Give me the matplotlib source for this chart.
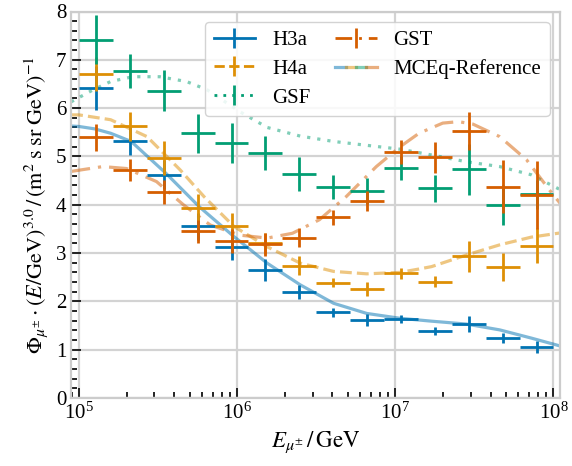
import numpy as np
import matplotlib
matplotlib.use('Agg')
import matplotlib.pyplot as plt
from matplotlib.lines import Line2D
from matplotlib.legend_handler import HandlerTuple

plt.rcParams['font.family'] = 'serif'
plt.rcParams['font.serif'] = ['Liberation Serif', 'DejaVu Serif']
plt.rcParams['mathtext.fontset'] = 'stix'
plt.rcParams['font.size'] = 15

# Muon flux (E^3 weighted) in 14 log bins from 1e5 to 1e8 GeV
edges = np.logspace(5, 8, 15)
centers = np.sqrt(edges[:-1] * edges[1:])

h3a = [6.42, 5.32, 4.62, 3.55, 3.13, 2.65, 2.19, 1.77, 1.61, 1.63, 1.39, 1.53, 1.24, 1.05]
h3a_err = [0.46, 0.30, 0.30, 0.28, 0.27, 0.22, 0.15, 0.10, 0.12, 0.08, 0.08, 0.16, 0.10, 0.12]
h4a = [6.71, 5.62, 4.97, 3.94, 3.57, 3.20, 2.74, 2.39, 2.26, 2.58, 2.41, 2.93, 2.71, 3.15]
h4a_err = [0.35, 0.31, 0.35, 0.28, 0.26, 0.22, 0.20, 0.10, 0.15, 0.12, 0.12, 0.33, 0.29, 0.36]
gsf = [7.42, 6.77, 6.36, 5.48, 5.28, 5.07, 4.64, 4.37, 4.29, 4.76, 4.34, 4.73, 4.00, 4.22]
gsf_err = [0.50, 0.36, 0.42, 0.40, 0.41, 0.35, 0.35, 0.25, 0.27, 0.24, 0.28, 0.52, 0.41, 0.30]
gst = [5.40, 4.72, 4.27, 3.45, 3.25, 3.18, 3.32, 3.74, 4.08, 5.10, 4.98, 5.53, 4.37, 4.20]
gst_err = [0.28, 0.22, 0.25, 0.24, 0.24, 0.24, 0.20, 0.15, 0.20, 0.25, 0.32, 0.40, 0.55, 0.71]

# MCEq reference curves (log10 E, value)
h3a_ref_loge = [4.95, 5.0, 5.1, 5.2, 5.33, 5.55, 5.76, 5.98, 6.19, 6.40, 6.61, 6.82, 7.03, 7.23, 7.45, 7.66, 7.86, 8.05]
h3a_ref = [5.63, 5.62, 5.57, 5.48, 5.31, 4.65, 3.96, 3.34, 2.79, 2.34, 1.96, 1.75, 1.65, 1.59, 1.53, 1.41, 1.24, 1.07]
h4a_ref_loge = [4.95, 5.0, 5.2, 5.43, 5.64, 5.79, 5.98, 6.19, 6.40, 6.61, 6.82, 7.03, 7.15, 7.23, 7.45, 7.66, 7.86, 8.05]
h4a_ref = [5.86, 5.86, 5.76, 5.41, 4.72, 4.17, 3.55, 3.13, 2.79, 2.62, 2.57, 2.60, 2.67, 2.72, 2.96, 3.17, 3.33, 3.42]
gsf_ref_loge = [4.95, 5.09, 5.20, 5.34, 5.51, 5.68, 5.81, 6.02, 6.19, 6.40, 6.61, 6.82, 7.03, 7.23, 7.45, 7.66, 7.86, 8.05]
gsf_ref = [6.13, 6.38, 6.55, 6.65, 6.65, 6.55, 6.38, 5.92, 5.60, 5.42, 5.31, 5.23, 5.15, 5.03, 4.89, 4.79, 4.62, 4.30]
gst_ref_loge = [4.95, 5.15, 5.30, 5.49, 5.66, 5.83, 6.02, 6.19, 6.35, 6.52, 6.69, 6.88, 7.03, 7.15, 7.30, 7.40, 7.49, 7.66, 7.83, 7.99, 8.05]
gst_ref = [4.69, 4.79, 4.75, 4.48, 4.00, 3.58, 3.37, 3.31, 3.41, 3.69, 4.17, 4.79, 5.20, 5.48, 5.69, 5.72, 5.67, 5.41, 4.93, 4.24, 4.00]

colors = ['#0173B2', '#DE8F05', '#029E73', '#D55E00']
labels = ['H3a', 'H4a', 'GSF', 'GST']
styles = ['-', '--', (0, (1, 2.2)), (0, (6, 2.5, 1, 2.5))]

fig = plt.figure(figsize=(5.72, 4.66), dpi=100)
ax = fig.add_axes([71 / 572, 68 / 466, 489 / 572, 386.5 / 466])

refs = [(h3a_ref_loge, h3a_ref), (h4a_ref_loge, h4a_ref),
        (gsf_ref_loge, gsf_ref), (gst_ref_loge, gst_ref)]
for (loge, vals), c, ls in zip(refs, colors, styles):
    ax.plot(10 ** np.array(loge), vals, color=c, ls=ls, lw=2.3, alpha=0.5,
            zorder=2)

xerr = [centers - edges[:-1], edges[1:] - centers]
series = [(h3a, h3a_err), (h4a, h4a_err), (gsf, gsf_err), (gst, gst_err)]
for i, ((y, yerr), c) in enumerate(zip(series, colors)):
    ax.errorbar(centers, y, xerr=xerr, yerr=yerr, fmt='none', ecolor=c,
                elinewidth=2.0, capsize=0, zorder=3 + i)

ax.set_xscale('log')
ax.set_xlim(0.89e5, 1.1e8)
ax.set_ylim(0, 8)
ax.set_yticks(range(0, 9))
ax.yaxis.set_minor_locator(matplotlib.ticker.MultipleLocator(0.2))
ax.grid(True, which='major', color='#d3d3d3', lw=1.6)
ax.set_axisbelow(True)
for s in ax.spines.values():
    s.set_color('#cccccc')
    s.set_linewidth(1.6)
ax.tick_params(which='both', direction='in', color='#222222', width=1.4)
ax.tick_params(which='major', length=7, labelsize=15)
ax.tick_params(which='minor', length=4)

ax.set_xlabel(r'$E_{\mu^{\pm}}\,/\,\mathrm{GeV}$', fontsize=16.5)
ax.set_ylabel(r'$\Phi_{\mu^{\pm}}\cdot(E/\mathrm{GeV})^{3.0}\,/\,'
              r'(\mathrm{m}^2\;\mathrm{s}\;\mathrm{sr}\;\mathrm{GeV})^{-1}$',
              fontsize=16)

handles = []
for c, ls in zip(colors, styles):
    handles.append(Line2D([], [], color=c, ls=ls, lw=2.0, marker='|',
                          markersize=14, markeredgewidth=2.0))
ref_handle = tuple(Line2D([], [], color=c, lw=2.3, alpha=0.5) for c in colors)
handles.append(ref_handle)
leg = ax.legend(handles, labels + ['MCEq-Reference'], ncol=2, fontsize=15,
                loc='upper right', handler_map={tuple: HandlerTuple(ndivide=None, pad=0)},
                framealpha=0.85, edgecolor='#cccccc', columnspacing=1.2,
                labelspacing=0.45, handlelength=2.0)

fig.savefig('out.png', dpi=100)
